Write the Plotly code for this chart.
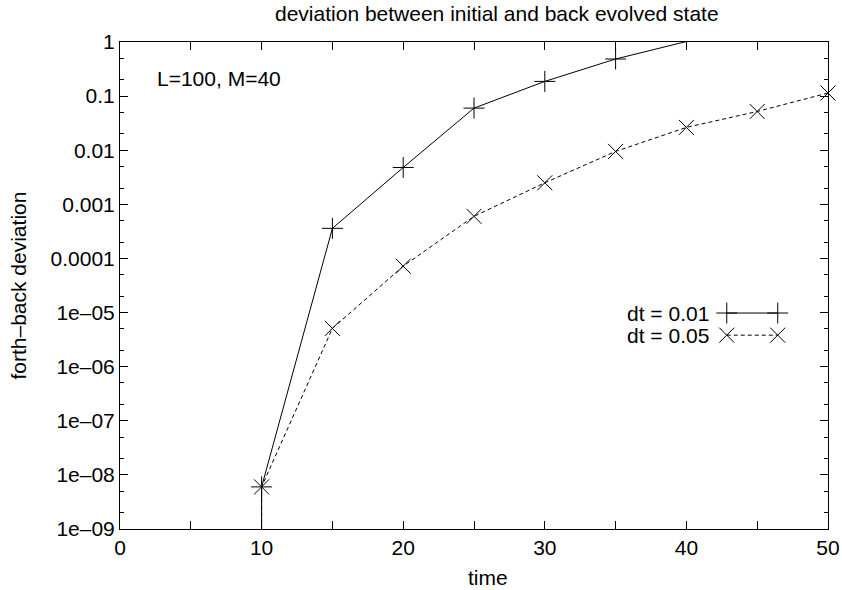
import plotly.graph_objects as go

# ---- data ----
t_dt001 = [10, 10, 15, 20, 25, 30, 35, 40]
dev_dt001 = [1e-12, 6e-9, 3.6e-4, 4.8e-3, 0.060, 0.187, 0.485, 1.02]
t_dt005 = [10, 10, 15, 20, 25, 30, 35, 40, 45, 50]
dev_dt005 = [1e-12, 6e-9, 5.1e-6, 7.2e-5, 6.0e-4, 2.5e-3, 9.5e-3, 0.0264, 0.052, 0.114]
labels = ["dt = 0.01", "dt = 0.05"]

ytick_vals = [10.0 ** k for k in range(-9, 1)]
ytick_text = ["1e–09", "1e–08", "1e–07", "1e–06", "1e–05", "0.0001", "0.001", "0.01", "0.1", "1"]
xtick_vals = [0, 10, 20, 30, 40, 50]

YMIN, YMAX = 1e-9, 1.0
FONT = "Liberation Sans, Arial, Helvetica, sans-serif"
FS = 21

fig = go.Figure()

def add_series(t, v, symbol, dash):
    fig.add_trace(go.Scatter(x=t, y=v, mode="lines",
                             line=dict(color="black", width=1, dash=dash),
                             showlegend=False, hoverinfo="skip"))
    tin = [a for a, b in zip(t, v) if YMIN <= b <= YMAX]
    vin = [b for b in v if YMIN <= b <= YMAX]
    fig.add_trace(go.Scatter(x=tin, y=vin, mode="markers", cliponaxis=False,
                             marker=dict(symbol=symbol, size=15, color="black",
                                         line=dict(color="black", width=1)),
                             showlegend=False, hoverinfo="skip"))

add_series(t_dt001, dev_dt001, "cross-thin-open", "solid")
add_series(t_dt005, dev_dt005, "x-thin-open", "4px,3px")

# ---- gnuplot-style key (text left of sample) on an overlay axis ----
key_rows = [0.4435, 0.398]
key_x0, key_x1, key_text_x = 0.857, 0.929, 0.8347
for lab, yk, sym, dash in zip(labels, key_rows,
                              ["cross-thin-open", "x-thin-open"], ["solid", "4px,3px"]):
    fig.add_trace(go.Scatter(x=[key_x0, key_x1], y=[yk, yk], mode="lines+markers",
                             xaxis="x2", yaxis="y2", cliponaxis=False,
                             line=dict(color="black", width=1, dash=dash),
                             marker=dict(symbol=sym, size=15, color="black",
                                         line=dict(color="black", width=1)),
                             showlegend=False, hoverinfo="skip"))
    fig.add_annotation(x=key_text_x, y=yk, xref="paper", yref="paper", text=lab,
                       showarrow=False, xanchor="right", yanchor="middle",
                       font=dict(family=FONT, size=FS, color="black"))

fig.add_annotation(x=0.5325, y=1.0595, xref="paper", yref="paper",
                   text="deviation between initial and back evolved state",
                   showarrow=False, xanchor="center", yanchor="middle",
                   font=dict(family=FONT, size=FS, color="black"))
fig.add_annotation(x=0.5198, y=-0.0986, xref="paper", yref="paper", text="time",
                   showarrow=False, xanchor="center", yanchor="middle",
                   font=dict(family=FONT, size=FS, color="black"))
fig.add_annotation(x=-0.144, y=0.5, xref="paper", yref="paper",
                   text="forth–back deviation", textangle=-90,
                   showarrow=False, xanchor="center", yanchor="middle",
                   font=dict(family=FONT, size=FS, color="black"))
fig.add_annotation(x=0.0494, y=0.926, xref="paper", yref="paper", text="L=100, M=40",
                   showarrow=False, xanchor="left", yanchor="middle",
                   font=dict(family=FONT, size=FS, color="black"))

minor_y = []
for k in range(-9, 0):
    minor_y += [2 * 10.0 ** k, 5 * 10.0 ** k]

fig.update_layout(
    template="none",
    width=842, height=590,
    margin=dict(l=120, r=14, t=42, b=61, pad=0),
    paper_bgcolor="white", plot_bgcolor="white",
    font=dict(family=FONT, size=FS, color="black"),
    xaxis=dict(range=[0, 50], tickmode="array", tickvals=xtick_vals, automargin=False,
               ticks="inside", ticklen=8, tickwidth=1, tickcolor="black",
               showline=True, linecolor="black", linewidth=1, mirror="allticks",
               showgrid=False, zeroline=False,
               minor=dict(tickmode="array", tickvals=[5, 15, 25, 35, 45],
                          ticks="inside", ticklen=8, tickcolor="black", showgrid=False),
               tickfont=dict(family=FONT, size=FS, color="black")),
    yaxis=dict(type="log", range=[-9, 0], tickmode="array", tickvals=ytick_vals,
               ticktext=ytick_text, automargin=False,
               ticks="inside", ticklen=8, tickwidth=1, tickcolor="black",
               showline=True, linecolor="black", linewidth=1, mirror="allticks",
               showgrid=False, zeroline=False,
               minor=dict(tickmode="array", tickvals=minor_y,
                          ticks="inside", ticklen=4, tickcolor="black", showgrid=False),
               tickfont=dict(family=FONT, size=FS, color="black")),
    xaxis2=dict(range=[0, 1], overlaying="x", visible=False, fixedrange=True, automargin=False),
    yaxis2=dict(range=[0, 1], overlaying="y", visible=False, fixedrange=True, automargin=False),
)

fig.write_html("out.html")
